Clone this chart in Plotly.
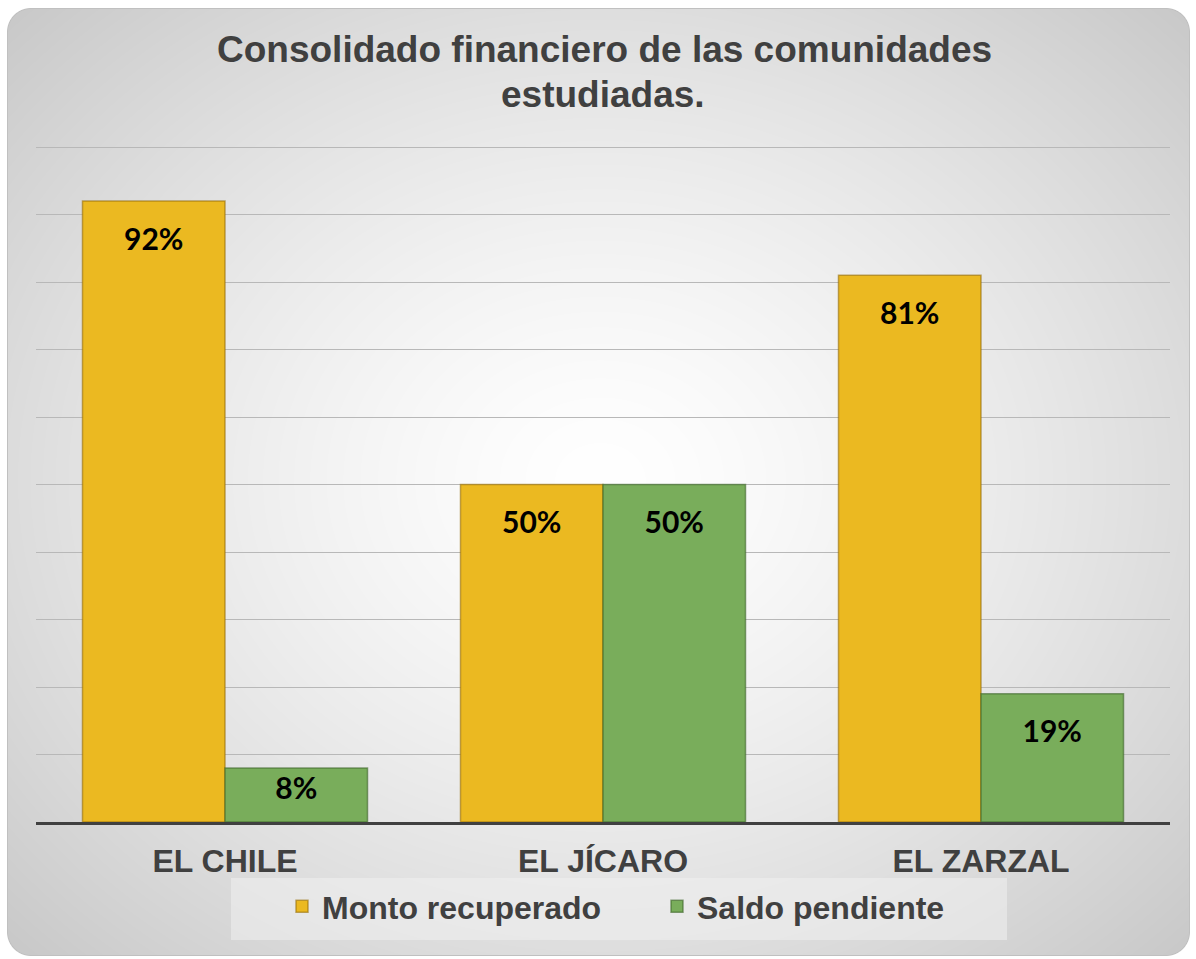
import base64
import struct
import zlib

import numpy as np
import plotly.graph_objects as go

# ---------------- data ----------------
comunidades = ["EL CHILE", "EL JÍCARO", "EL ZARZAL"]
monto_recuperado = [92, 50, 81]
saldo_pendiente = [8, 50, 19]
serie_nombres = ["Monto recuperado", "Saldo pendiente"]
titulo_lineas = ["Consolidado financiero de las comunidades", "estudiadas."]

# ---------------- figure geometry ----------------
W, H = 1196, 959
ML, MR, MT, MB = 36, 26, 146, 137
PW, PH = W - ML - MR, H - MT - MB


def px_x(xp):
    return (xp - ML) / PW


def px_y(yp):
    return (H - MB - yp) / PH


GOLD = "#EBB921"
GREEN = "#79AD5B"
TXT = "#404040"
FONT = "Liberation Sans, Arial, sans-serif"


# ---------------- background (radial gradient, rounded frame) ----------------
def make_background():
    yy, xx = np.mgrid[0:H, 0:W].astype(np.float64)
    cx, cy, ax, ay = 600.0, 480.0, 750.0, 620.0
    r = np.sqrt(((xx - cx) / ax) ** 2 + ((yy - cy) / ay) ** 2)
    val = 255.0 - 48.2 * r ** 1.38
    val = np.clip(val, 175, 255)

    x0, y0, x1, y1, rad = 6.5, 7.5, 1189.5, 955.5, 24.0
    qx = np.maximum(np.maximum(x0 + rad - xx, xx - (x1 - rad)), 0)
    qy = np.maximum(np.maximum(y0 + rad - yy, yy - (y1 - rad)), 0)
    d = np.sqrt(qx ** 2 + qy ** 2) - rad
    alpha = np.clip(0.5 - d, 0, 1)
    border = np.clip(1.0 - np.abs(d + 0.5), 0, 1)
    val = val * (1 - border) + 192 * border

    rgb = np.clip(val, 0, 255).astype(np.uint8)
    img = np.zeros((H, W, 4), dtype=np.uint8)
    img[..., 0] = rgb
    img[..., 1] = rgb
    img[..., 2] = rgb
    img[..., 3] = (alpha * 255).astype(np.uint8)

    flat = img.reshape(H, W * 4).astype(np.int16)
    sub = flat.copy()
    sub[:, 4:] = flat[:, 4:] - flat[:, :-4]
    sub = (sub % 256).astype(np.uint8)
    raw = b"".join(b"\x01" + row.tobytes() for row in sub)

    def chunk(tag, data):
        c = struct.pack(">I", len(data)) + tag + data
        return c + struct.pack(">I", zlib.crc32(tag + data) & 0xFFFFFFFF)

    png = b"\x89PNG\r\n\x1a\n"
    png += chunk(b"IHDR", struct.pack(">IIBBBBB", W, H, 8, 6, 0, 0, 0))
    png += chunk(b"IDAT", zlib.compress(raw, 9))
    png += chunk(b"IEND", b"")
    return "data:image/png;base64," + base64.b64encode(png).decode()


bg_uri = make_background()

fig = go.Figure()

series = [(serie_nombres[0], monto_recuperado, GOLD, "rgba(150,110,10,0.6)"),
          (serie_nombres[1], saldo_pendiente, GREEN, "rgba(60,100,40,0.6)")]

for i, (name, vals, col, edge) in enumerate(series):
    fig.add_trace(go.Bar(
        x=comunidades, y=vals, name=name, offsetgroup=str(i),
        marker=dict(color=col, line=dict(color=edge, width=1.5)),
        hoverinfo="x+y+name",
    ))

# data labels (invisible points, grouped like the bars)
for i, (name, vals, col, edge) in enumerate(series):
    fig.add_trace(go.Scatter(
        x=comunidades, y=vals, mode="markers+text",
        text=[f"{v}%" for v in vals],
        textposition="bottom center",
        textfont=dict(family="Lato, 'Open Sans', sans-serif", size=30,
                      color="#000000", weight="bold"),
        marker=dict(size=[40 if v > 10 else 12 for v in vals],
                    color="rgba(0,0,0,0)", line=dict(width=0)),
        offsetgroup=str(i), showlegend=False, hoverinfo="skip",
    ))

annotations = [
    dict(text=titulo_lineas[0], xref="paper", yref="paper",
         x=px_x(604), y=px_y(50), xanchor="center", yanchor="middle",
         showarrow=False, font=dict(family=FONT, size=37, color=TXT, weight="bold")),
    dict(text=titulo_lineas[1], xref="paper", yref="paper",
         x=px_x(603), y=px_y(95), xanchor="center", yanchor="middle",
         showarrow=False, font=dict(family=FONT, size=37, color=TXT, weight="bold")),
]

fig.update_layout(
    width=W, height=H,
    margin=dict(l=ML, r=MR, t=MT, b=MB, pad=0),
    paper_bgcolor="white",
    plot_bgcolor="rgba(0,0,0,0)",
    barmode="group", bargap=0.246, bargroupgap=0.0,
    scattermode="group", scattergap=0.246,
    font=dict(family=FONT, color=TXT),
    xaxis=dict(
        showline=True, linecolor="#404040", linewidth=3,
        ticks="", showgrid=False,
        tickfont=dict(size=32, color=TXT, weight="bold"),
        ticklabelstandoff=9,
    ),
    yaxis=dict(
        range=[0, 100.15], dtick=10, showticklabels=False, ticks="",
        showgrid=True, gridcolor="#b8b8b8", gridwidth=1,
        zeroline=False, showline=False,
    ),
    legend=dict(
        orientation="h", x=px_x(282), xanchor="left", y=px_y(879), yanchor="top",
        bgcolor="rgba(0,0,0,0)",
        font=dict(size=32, color=TXT, weight="bold"),
        entrywidth=330, itemwidth=30,
    ),
    annotations=annotations,
    shapes=[dict(
        type="rect", xref="paper", yref="paper",
        x0=px_x(231), x1=px_x(1007), y0=px_y(940), y1=px_y(878),
        fillcolor="rgba(240,240,240,0.55)", line=dict(width=0), layer="below",
    )],
    images=[dict(
        source=bg_uri, xref="paper", yref="paper",
        x=-ML / PW, y=1 + MT / PH, sizex=W / PW, sizey=H / PH,
        xanchor="left", yanchor="top", sizing="stretch", layer="below",
    )],
)

fig.write_html("out.html", config={"displayModeBar": False},
               post_script="document.body.style.margin='0';")
